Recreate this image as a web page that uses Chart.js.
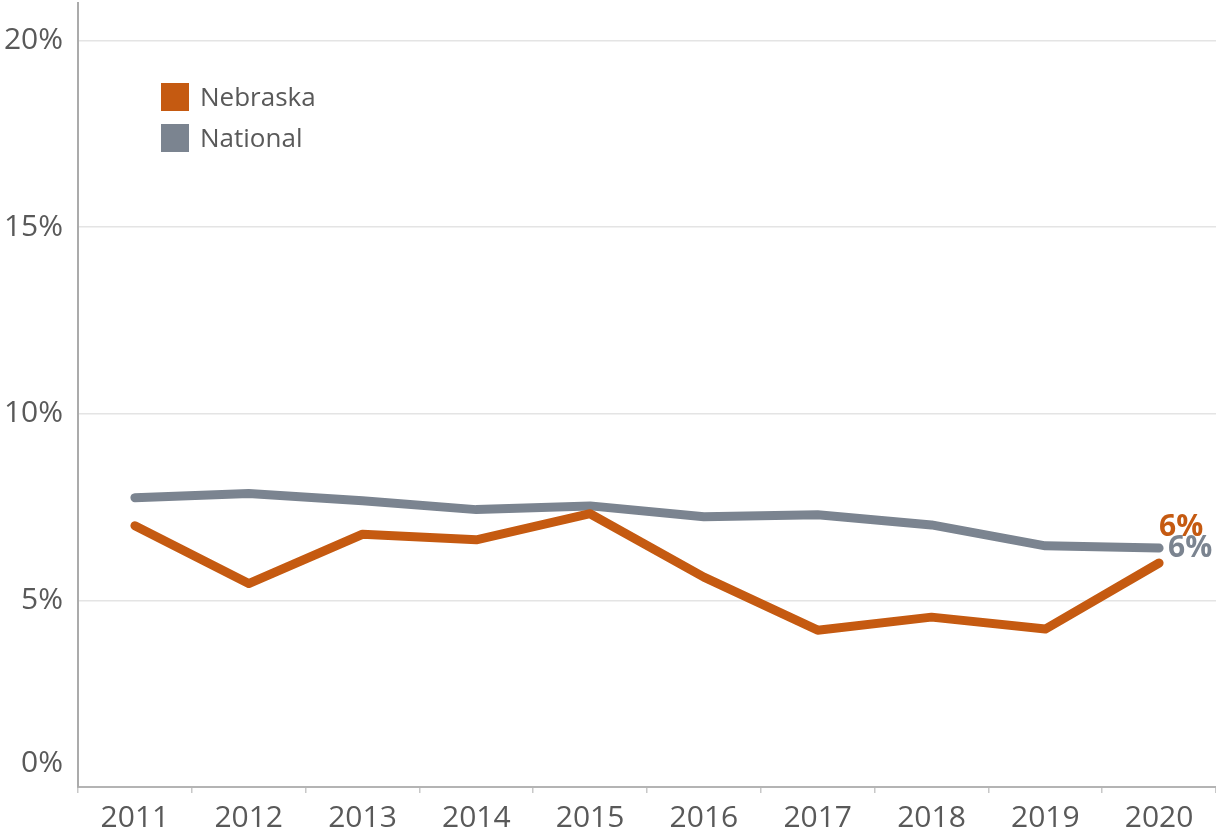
<!DOCTYPE html>
<html>
<head>
<meta charset="utf-8">
<script src="https://cdn.jsdelivr.net/npm/chart.js@4/dist/chart.umd.min.js"></script>
<style>
  html, body { margin: 0; padding: 0; background: #fff; }
  #wrap { width: 1216px; height: 836px; }
</style>
</head>
<body>
<div id="wrap"><canvas id="trend" width="1216" height="836"></canvas></div>
<script>
// chart data
const years = ['2011', '2012', '2013', '2014', '2015', '2016', '2017', '2018', '2019', '2020'];
const nebraska = [7.0, 5.45, 6.77, 6.62, 7.32, 5.62, 4.2, 4.55, 4.23, 6.0];
const national = [7.75, 7.86, 7.67, 7.43, 7.53, 7.24, 7.29, 7.02, 6.46, 6.4];
const yTicks = [0, 5, 10, 15, 20];
const endLabels = ['6%', '6%'];

const orange = '#c55a11';
const grey = '#7b8490';
const textGrey = '#595959';
const font = "'Open Sans', sans-serif";

// legend drawn inside the plot, top left
const insideLegend = {
    id: 'insideLegend',
    afterDraw(chart) {
        const ctx = chart.ctx;
        ctx.save();
        ctx.font = '26px ' + font;
        ctx.textBaseline = 'middle';
        chart.data.datasets.forEach((ds, i) => {
            const top = 83 + i * 41;
            ctx.fillStyle = ds.borderColor;
            ctx.fillRect(161, top, 28, 28);
            ctx.fillStyle = textGrey;
            ctx.fillText(ds.label, 200, top + 16);
        });
        ctx.restore();
    }
};

// value labels at the last point of each line
const endValues = {
    id: 'endValues',
    afterDatasetsDraw(chart) {
        const ctx = chart.ctx;
        ctx.save();
        ctx.font = 'bold 30px ' + font;
        ctx.textBaseline = 'middle';
        chart.data.datasets.forEach((ds, i) => {
            const pts = chart.getDatasetMeta(i).data;
            const p = pts[pts.length - 1];
            ctx.fillStyle = ds.borderColor;
            if (i === 0) ctx.fillText(endLabels[i], p.x, p.y - 36);
            else ctx.fillText(endLabels[i], p.x + 9, p.y);
        });
        ctx.restore();
    }
};

new Chart(document.getElementById('trend'), {
    type: 'line',
    data: {
        labels: years,
        datasets: [{
            label: 'Nebraska',
            data: nebraska,
            borderColor: orange,
            backgroundColor: orange,
            borderWidth: 9,
            borderJoinStyle: 'round',
            borderCapStyle: 'round',
            pointRadius: 0,
            tension: 0
        }, {
            label: 'National',
            data: national,
            borderColor: grey,
            backgroundColor: grey,
            borderWidth: 9,
            borderJoinStyle: 'round',
            borderCapStyle: 'round',
            pointRadius: 0,
            tension: 0
        }]
    },
    options: {
        responsive: false,
        animation: false,
        devicePixelRatio: 1,
        layout: { padding: { top: 3, right: 0, left: 0, bottom: 0 } },
        plugins: {
            legend: { display: false },
            tooltip: { enabled: false }
        },
        scales: {
            x: {
                offset: true,
                grid: {
                    offset: true,
                    drawOnChartArea: false,
                    drawTicks: true,
                    tickLength: 6,
                    color: '#c8c8c8',
                    lineWidth: 1.5
                },
                border: { color: '#b4b4b4', width: 2 },
                ticks: {
                    color: textGrey,
                    font: { family: font, size: 30 },
                    padding: 7,
                    maxRotation: 0
                },
                afterFit(scale) {
                    scale.height = 49;
                    scale.paddingLeft = 0;
                    scale.paddingRight = 0;
                }
            },
            y: {
                min: 0,
                max: 21,
                afterBuildTicks(scale) {
                    scale.ticks = yTicks.map(v => ({ value: v }));
                },
                grid: {
                    color: '#e4e4e4',
                    lineWidth: 1.5,
                    drawTicks: false
                },
                border: { color: '#ababab', width: 2 },
                ticks: {
                    color: textGrey,
                    // the 0% label sits above the x axis line, like the original
                    font: ctx => ({ family: font, size: 30, lineHeight: ctx.tick && ctx.tick.value === 0 ? 1.6 : 1.2 }),
                    padding: 15,
                    callback: v => v === 0 ? ['0%', ''] : v + '%'
                },
                afterFit(scale) {
                    scale.width = 78;
                    scale.paddingTop = 0;
                    scale.paddingBottom = 0;
                }
            }
        }
    },
    plugins: [insideLegend, endValues]
});
</script>
</body>
</html>
